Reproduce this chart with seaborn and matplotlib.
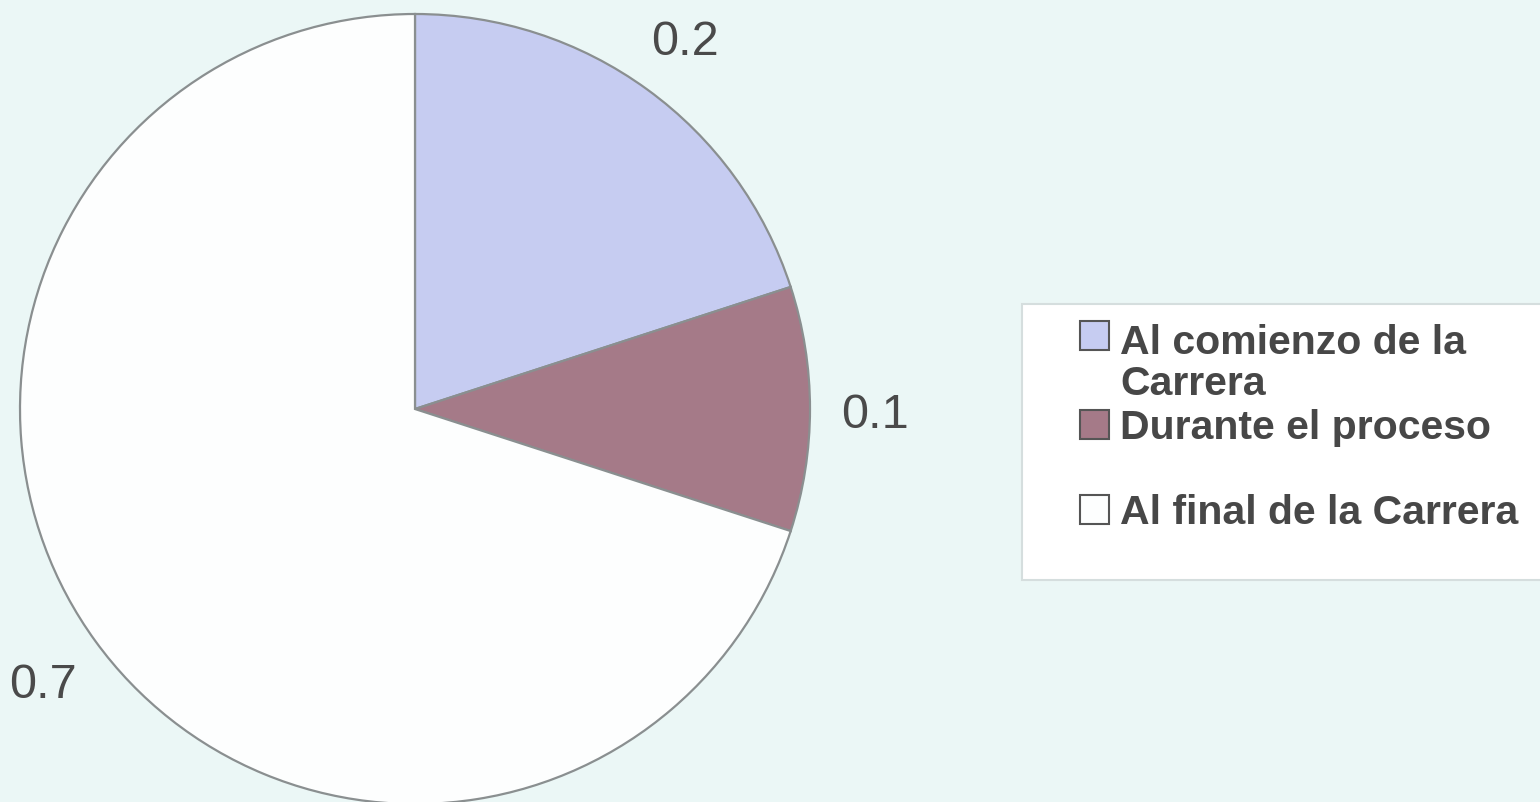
import matplotlib
matplotlib.use("Agg")
import matplotlib.pyplot as plt
import seaborn as sns
from matplotlib.patches import Rectangle
import numpy as np

# ---- data ----
categories = ["Al comienzo de la\nCarrera", "Durante el proceso", "Al final de la Carrera"]
values = [0.2, 0.1, 0.7]
value_labels = ["0.2", "0.1", "0.7"]
colors = ["#C6CCF1", "#A57A88", "#FDFEFE"]

sns.set_style("white")
plt.rcParams["font.family"] = ["Liberation Sans", "DejaVu Sans"]

W, H = 1540, 803
bg = "#EBF7F6"
fig = plt.figure(figsize=(W / 100, H / 100), dpi=100, facecolor=bg)
ax = fig.add_axes([0, 0, 1, 1])
ax.set_facecolor(bg)

cx, cy, R = 415, H - 410, 395
wedges, texts = ax.pie(
    values,
    labels=value_labels,
    colors=sns.color_palette(colors),
    startangle=90,
    counterclock=False,
    center=(cx, cy),
    radius=R,
    labeldistance=1.165,
    wedgeprops=dict(edgecolor="#8a8f90", linewidth=1.6),
    textprops=dict(fontsize=35, color="#4a4a4a"),
)
for t in texts:
    t.set_ha("center")
    t.set_va("center_baseline")

ax.set_xlim(0, W)
ax.set_ylim(0, H)
ax.set_aspect("equal")
ax.axis("off")

# ---- legend (drawn as Excel-style box) ----
def py(y):
    return H - y

ax.add_patch(Rectangle((1022, py(581)), 560, 276, facecolor="white",
                       edgecolor="#d5dede", linewidth=1.5, zorder=3))
baselines = [350, 439, 524]
line_gap = 45
for lab, col, b in zip(categories, colors, baselines):
    ax.add_patch(Rectangle((1080, py(b + 1)), 29, 29, facecolor=col,
                           edgecolor="#555555", linewidth=1.5, zorder=4))
    nlines = lab.count("\n")
    ax.text(1120, py(b + nlines * line_gap), lab, fontsize=29.5, fontweight="bold",
            color="#474747", ha="left", va="baseline", linespacing=1.1, zorder=5)

fig.savefig("out.png", dpi=100, facecolor=bg)
